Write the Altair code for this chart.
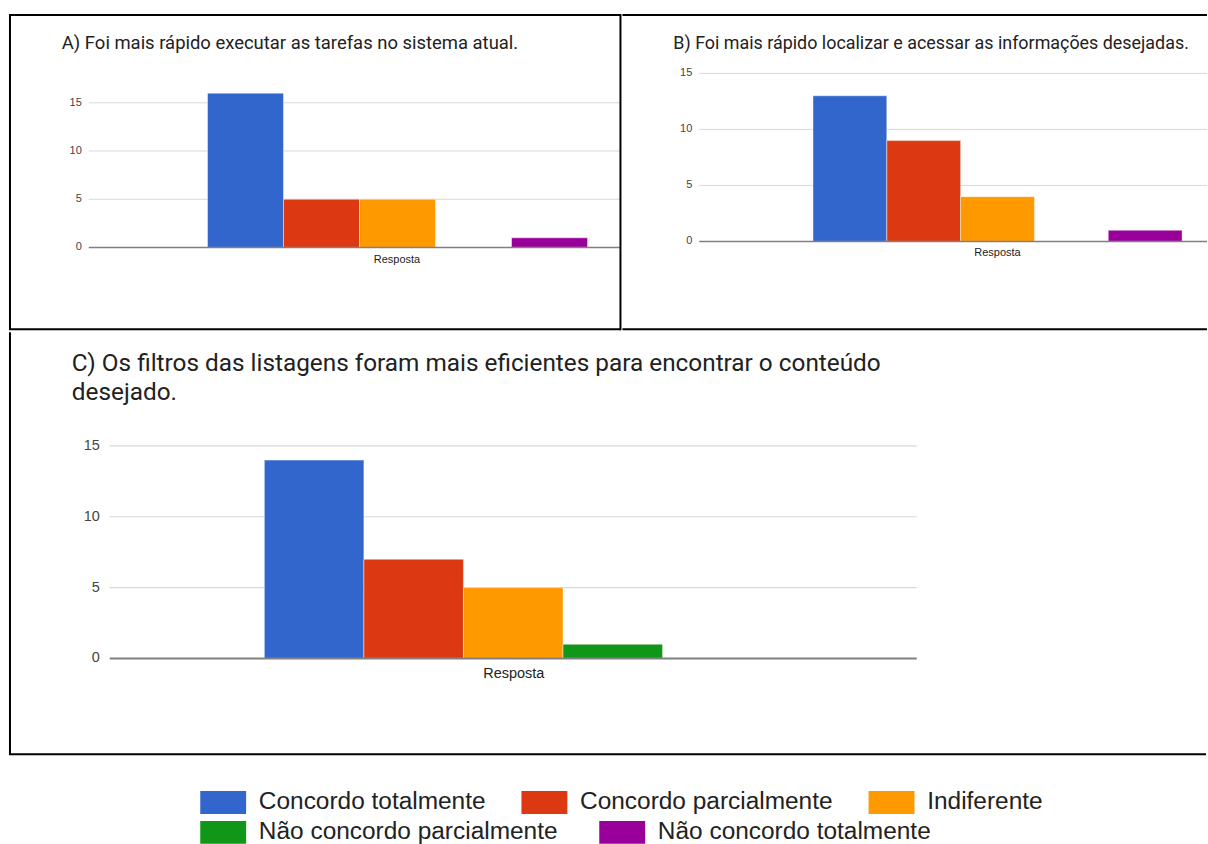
import altair as alt
import pandas as pd

categorias = ["Concordo totalmente", "Concordo parcialmente", "Indiferente",
              "Não concordo parcialmente", "Não concordo totalmente"]
cores = ["#3366cc", "#dc3912", "#ff9900", "#109618", "#990099"]
valores_a = [16, 5, 5, 0, 1]
valores_b = [13, 9, 4, 0, 1]
valores_c = [14, 7, 5, 1, 0]
titulo_a = "A) Foi mais rápido executar as tarefas no sistema atual."
titulo_b = "B) Foi mais rápido localizar e acessar as informações desejadas."
titulo_c = ["C) Os filtros das listagens foram mais eficientes para encontrar o conteúdo",
            "desejado."]
rotulo_x = "Resposta"
ticks = [0, 5, 10, 15]

LEG = dict(
    direction="horizontal", symbolType="M-1,-1L3,-1L3,1L-1,1Z", symbolSize=529,
    symbolStrokeWidth=0, symbolOpacity=1, labelFont="Liberation Sans",
    labelFontSize=24.5, labelColor="#222222", labelOffset=35,
    padding=0, labelLimit=0,
)
# legend row 1: first three answers; row 2: last two answers
legenda1 = alt.Legend(title=None, orient="none", legendX=191, legendY=778,
                      values=categorias[:3], columnPadding=35, **LEG)
legenda2 = alt.Legend(title=None, orient="none", legendX=191, legendY=808,
                      columnPadding=40, **LEG)

um = pd.DataFrame({"a": [0]})


def painel(valores, titulo, W, H, g, bordas):
    df = pd.DataFrame({"categoria": categorias, "valor": valores})
    tdf = pd.DataFrame({"tick": ticks})
    ysc = alt.Scale(domain=[0, 15], range=[g["y0"], g["y15"]], nice=False, zero=False)
    xsc = alt.Scale(domain=categorias, range=[g["bx0"], g["bx1"]], paddingInner=0, paddingOuter=0)

    grid = alt.Chart(tdf).transform_filter("datum.tick > 0").mark_rule(
        color="#d8d8d8", strokeWidth=g["gw"]).encode(
        y=alt.Y("tick:Q", scale=ysc, axis=None), x=alt.value(g["gx0"]), x2=alt.value(g["gx1"]))
    barras = alt.Chart(df).mark_bar(stroke="white", strokeOpacity=0.45, strokeWidth=1).encode(
        x=alt.X("categoria:N", scale=xsc, axis=None, sort=categorias),
        y=alt.Y("valor:Q", scale=ysc, axis=None),
        color=alt.Color("categoria:N", scale=alt.Scale(domain=categorias, range=cores),
                        legend=legenda1))
    # invisible copy of the last two bars that carries the second legend row
    barras2 = alt.Chart(df).transform_filter(
        alt.FieldOneOfPredicate(field="categoria", oneOf=categorias[3:])
    ).mark_bar(opacity=0).encode(
        x=alt.X("categoria:N", scale=xsc, axis=None, sort=categorias),
        y=alt.Y("valor:Q", scale=ysc, axis=None),
        fill=alt.Fill("categoria:N", scale=alt.Scale(domain=categorias[3:], range=cores[3:]),
                      legend=legenda2))
    zero = alt.Chart(tdf).transform_filter("datum.tick == 0").mark_rule(
        color="#808080", strokeWidth=g["zw"]).encode(
        y=alt.Y("tick:Q", scale=ysc, axis=None), x=alt.value(g["gx0"]), x2=alt.value(g["gx1"]))
    rotulos = alt.Chart(tdf).mark_text(
        align="right", baseline="middle", font="Liberation Sans", fontSize=g["fs"], color="#444444").encode(
        y=alt.Y("tick:Q", scale=ysc, axis=None), x=alt.value(g["lx"]), text="tick:Q")
    tit = alt.Chart(um).mark_text(
        text=titulo, align="left", baseline="alphabetic", font="Roboto", fontSize=g["tfs"],
        color="#212121", lineHeight=g["lh"]).encode(x=alt.value(g["tx"]), y=alt.value(g["ty"]))
    resp = alt.Chart(um).mark_text(
        text=rotulo_x, align="center", baseline="middle", font="Liberation Sans",
        fontSize=g["rfs"], color="#222222").encode(x=alt.value(g["rx"]), y=alt.value(g["ry"]))
    camadas = [grid, barras2, barras, zero, rotulos, tit, resp]
    for (x1, y1, x2, y2) in bordas:
        camadas.append(alt.Chart(um).mark_rule(color="black", strokeWidth=2).encode(
            x=alt.value(x1), y=alt.value(y1), x2=alt.value(x2), y2=alt.value(y2)))
    return alt.layer(*camadas).properties(width=W, height=H)


A = painel(valores_a, titulo_a, 614, 317,
           dict(y0=234, y15=89, bx0=199, bx1=580, gx0=80, gx1=613, lx=73, fs=11, gw=1, zw=1.5,
                tx=53, ty=35, tfs=18.5, lh=20, rx=389, ry=247, rfs=11),
           [(1, 0, 1, 316), (0, 1, 613, 1), (613, 0, 613, 317), (0, 316, 613, 316)])
B = painel(valores_b, titulo_b, 586, 317,
           dict(y0=228, y15=59.5, bx0=191, bx1=561, gx0=77, gx1=586, lx=70, fs=11, gw=1, zw=1.5,
                tx=51, ty=35, tfs=17.95, lh=20, rx=376, ry=240, rfs=11),
           [(0, 1, 586, 1), (0, 316, 586, 316)])
C = painel(valores_c, titulo_c, 1200, 424,
           dict(y0=327, y15=114, bx0=256, bx1=755, gx0=101, gx1=910, lx=91, fs=14.5, gw=1.2, zw=2,
                tx=63, ty=38.5, tfs=24.4, lh=29, rx=506, ry=343, rfs=14.5),
           [(1, 0, 1, 423), (0, 423, 1200, 423)])

topo = alt.hconcat(A, B, spacing=0)
chart = alt.vconcat(topo, C, spacing=0).properties(
    padding={"left": 8, "top": 12, "right": 0, "bottom": 0},
    background="white",
).configure_view(strokeWidth=0).configure_legend(**LEG).configure_concat(spacing=0)

chart.save("out.html", embed_options={"renderer": "svg", "actions": False})
